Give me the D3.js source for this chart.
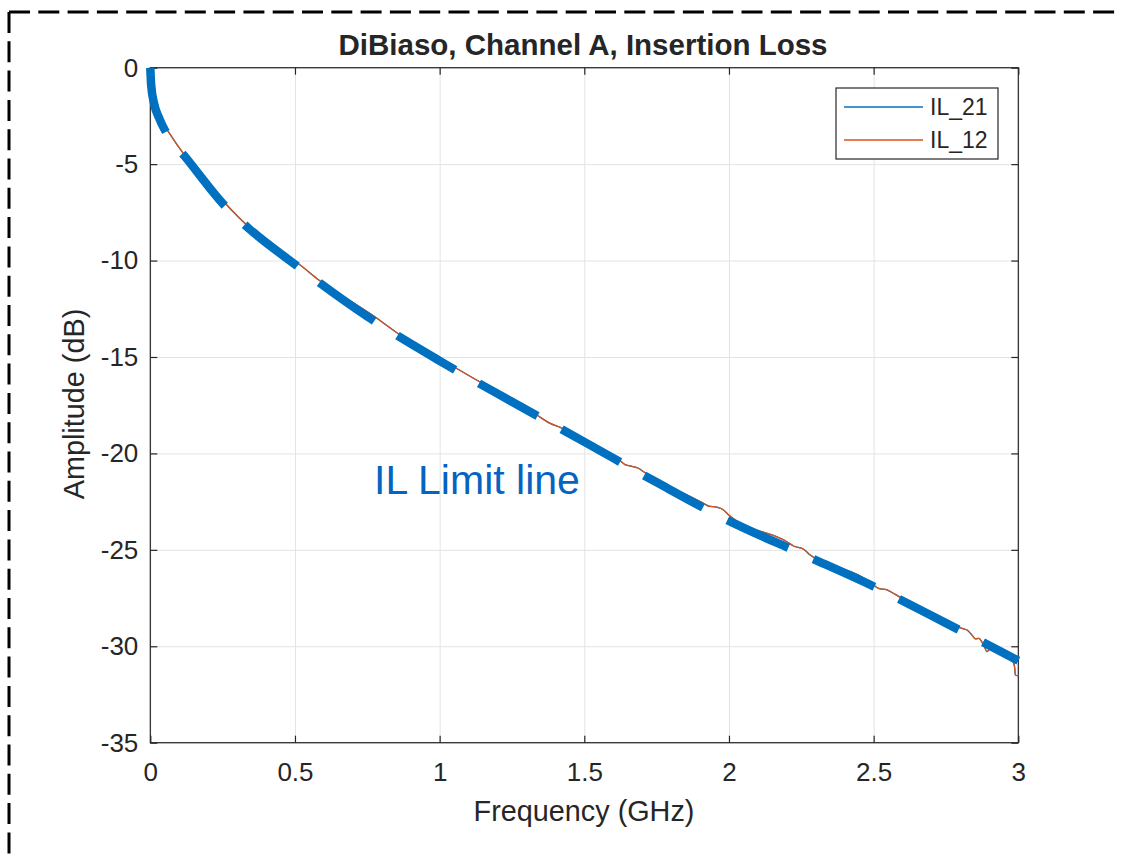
<!DOCTYPE html>
<html>
<head>
<meta charset="utf-8">
<script src="https://cdn.jsdelivr.net/npm/d3@7"></script>
<style>
  body { margin: 0; background: #fff; }
  text { font-family: "Liberation Sans", Arial, Helvetica, sans-serif; fill: #262626; }
</style>
</head>
<body>
<svg width="1122" height="858"></svg>
<script>
// tick labels
const xTicks = [0, 0.5, 1, 1.5, 2, 2.5, 3];
const yTicks = [0, -5, -10, -15, -20, -25, -30, -35];

// IL limit line (dashed, thick)
const limitFreq = [0, 0.003, 0.013, 0.03, 0.058, 0.125, 0.26, 0.34, 0.5, 0.75, 1.0, 1.25, 1.5, 1.75, 2.0, 2.25, 2.5, 2.75, 3.0];
const limitDb   = [0, -0.9, -1.85, -2.6, -3.45, -4.7, -7.2, -8.33, -10.2, -12.9, -15.2, -17.32, -19.4, -21.5, -23.5, -25.2, -26.9, -28.8, -30.75];

// IL_12 (measured)
const il12Freq = [0, 0.003, 0.013, 0.03, 0.068, 0.114, 0.18, 0.27, 0.333, 0.483, 0.506, 0.581, 0.783, 0.863, 1.0, 1.059, 1.14, 1.336, 1.382, 1.417,
                  1.486, 1.624, 1.641, 1.659, 1.687, 1.705, 1.912, 1.93, 1.958, 1.981, 1.999, 2.2, 2.223, 2.258, 2.281, 2.454, 2.494,
                  2.517, 2.546, 2.575, 2.592, 2.788, 2.806, 2.823, 2.84, 2.852, 2.863, 2.88, 2.892, 2.901, 2.978, 2.987, 2.99, 3.0];
const il12Db   = [0, -0.9, -1.85, -2.5, -3.44, -4.44, -5.65, -7.21, -8.16, -9.88, -10.1, -11.0, -12.99, -13.86, -15.1, -15.6, -16.3, -18.01, -18.44, -18.65,
                  -19.13, -20.38, -20.58, -20.65, -20.77, -20.95, -22.59, -22.73, -22.79, -22.93, -23.19, -24.58, -24.8, -24.97, -25.27, -26.36, -26.74,
                  -27.0, -27.08, -27.31, -27.46, -28.98, -29.07, -29.16, -29.42, -29.62, -29.59, -29.93, -30.28, -30.16, -30.71, -31.06, -31.49, -31.54];

// IL_21 lies exactly under IL_12 in the picture
const il21Freq = il12Freq;
const il21Db   = il12Db;

const svg    = d3.select("svg"),
      margin = {top: 67.7, left: 150.3},
      width  = 868,
      height = 675,
      x      = d3.scaleLinear().domain([0, 3]).range([0, width]),
      y      = d3.scaleLinear().domain([-35, 0]).range([height, 0]),
      g      = svg.append("g").attr("transform", `translate(${margin.left},${margin.top})`);

// dashed frame round the figure
svg.append("line").attr("x1", 9).attr("y1", 12).attr("x2", 1122).attr("y2", 12)
   .attr("stroke", "#000").attr("stroke-width", 3).attr("stroke-dasharray", "21,8.3");
svg.append("line").attr("x1", 9).attr("y1", 12).attr("x2", 9).attr("y2", 858)
   .attr("stroke", "#000").attr("stroke-width", 3).attr("stroke-dasharray", "21,8.3");

// grid
g.append("g")
  .attr("class", "grid")
  .attr("transform", `translate(0,${height})`)
  .call(d3.axisBottom(x).tickValues(xTicks).tickSize(-height).tickFormat(""));
g.append("g")
  .attr("class", "grid")
  .call(d3.axisLeft(y).tickValues(yTicks).tickSize(-width).tickFormat(""));
g.selectAll(".grid line").attr("stroke", "#e3e3e3").attr("stroke-width", 1);
g.selectAll(".grid .domain").remove();

// axes, ticks inside
g.append("g")
  .attr("class", "axis axis-x")
  .attr("transform", `translate(0,${height})`)
  .call(d3.axisBottom(x).tickValues(xTicks).tickSizeInner(-7).tickSizeOuter(0).tickPadding(20).tickFormat(d3.format("")));
g.append("g")
  .attr("class", "axis axis-y")
  .call(d3.axisLeft(y).tickValues(yTicks).tickSizeInner(-7).tickSizeOuter(0).tickPadding(12).tickFormat(d => d));
g.append("g")
  .attr("class", "axis")
  .call(d3.axisTop(x).tickValues(xTicks).tickSizeInner(-7).tickSizeOuter(0).tickFormat(""));
g.append("g")
  .attr("class", "axis")
  .attr("transform", `translate(${width},0)`)
  .call(d3.axisRight(y).tickValues(yTicks).tickSizeInner(-7).tickSizeOuter(0).tickFormat(""));

g.selectAll(".axis .domain").remove();
g.selectAll(".axis line").attr("stroke", "#262626").attr("stroke-width", 1.2);
g.selectAll(".axis text")
  .style("font-family", "'Liberation Sans', Arial, sans-serif")
  .style("font-size", "26px")
  .attr("fill", "#262626");

g.append("rect")
  .attr("width", width).attr("height", height)
  .attr("fill", "none").attr("stroke", "#262626").attr("stroke-width", 1.2);

// data lines
const line = d3.line().x(d => x(d[0])).y(d => y(d[1])).curve(d3.curveMonotoneX);

g.append("path")
  .datum(d3.zip(il21Freq, il21Db))
  .attr("fill", "none").attr("stroke", "#0072BD").attr("stroke-width", 1.3)
  .attr("d", line);

g.append("path")
  .datum(d3.zip(il12Freq, il12Db))
  .attr("fill", "none").attr("stroke", "#D95319").attr("stroke-width", 1.3)
  .attr("d", line);

g.append("path")
  .datum(d3.zip(limitFreq, limitDb))
  .attr("fill", "none").attr("stroke", "#0070C0").attr("stroke-width", 8.5)
  .attr("stroke-dasharray", "67,27.5")
  .attr("d", line);

// texts
svg.append("text")
  .attr("x", 583).attr("y", 55)
  .attr("text-anchor", "middle")
  .style("font-size", "29.5px").style("font-weight", "bold")
  .attr("fill", "#000")
  .text("DiBiaso, Channel A, Insertion Loss");

svg.append("text")
  .attr("x", 584).attr("y", 821)
  .attr("text-anchor", "middle")
  .style("font-size", "28.8px")
  .text("Frequency (GHz)");

svg.append("text")
  .attr("transform", "translate(84,404) rotate(-90)")
  .attr("text-anchor", "middle")
  .style("font-size", "28.8px")
  .text("Amplitude (dB)");

svg.append("text")
  .attr("x", 374).attr("y", 494)
  .style("font-size", "41px")
  .style("fill", "#0563C1")
  .text("IL Limit line");

// legend
const legendNames  = ["IL_21", "IL_12"];
const legendColors = ["#0072BD", "#D95319"];
const legend = svg.append("g").attr("transform", "translate(836,88)");
legend.append("rect")
  .attr("width", 162).attr("height", 71)
  .attr("fill", "#fff").attr("stroke", "#262626").attr("stroke-width", 1.2);
legendNames.forEach((name, i) => {
  legend.append("line")
    .attr("x1", 8).attr("x2", 87)
    .attr("y1", 19 + i * 33).attr("y2", 19 + i * 33)
    .attr("stroke", legendColors[i]).attr("stroke-width", 1.3);
  legend.append("text")
    .attr("x", 94).attr("y", 27 + i * 33)
    .style("font-size", "23px")
    .attr("fill", "#000")
    .text(name);
});
</script>
</body>
</html>
